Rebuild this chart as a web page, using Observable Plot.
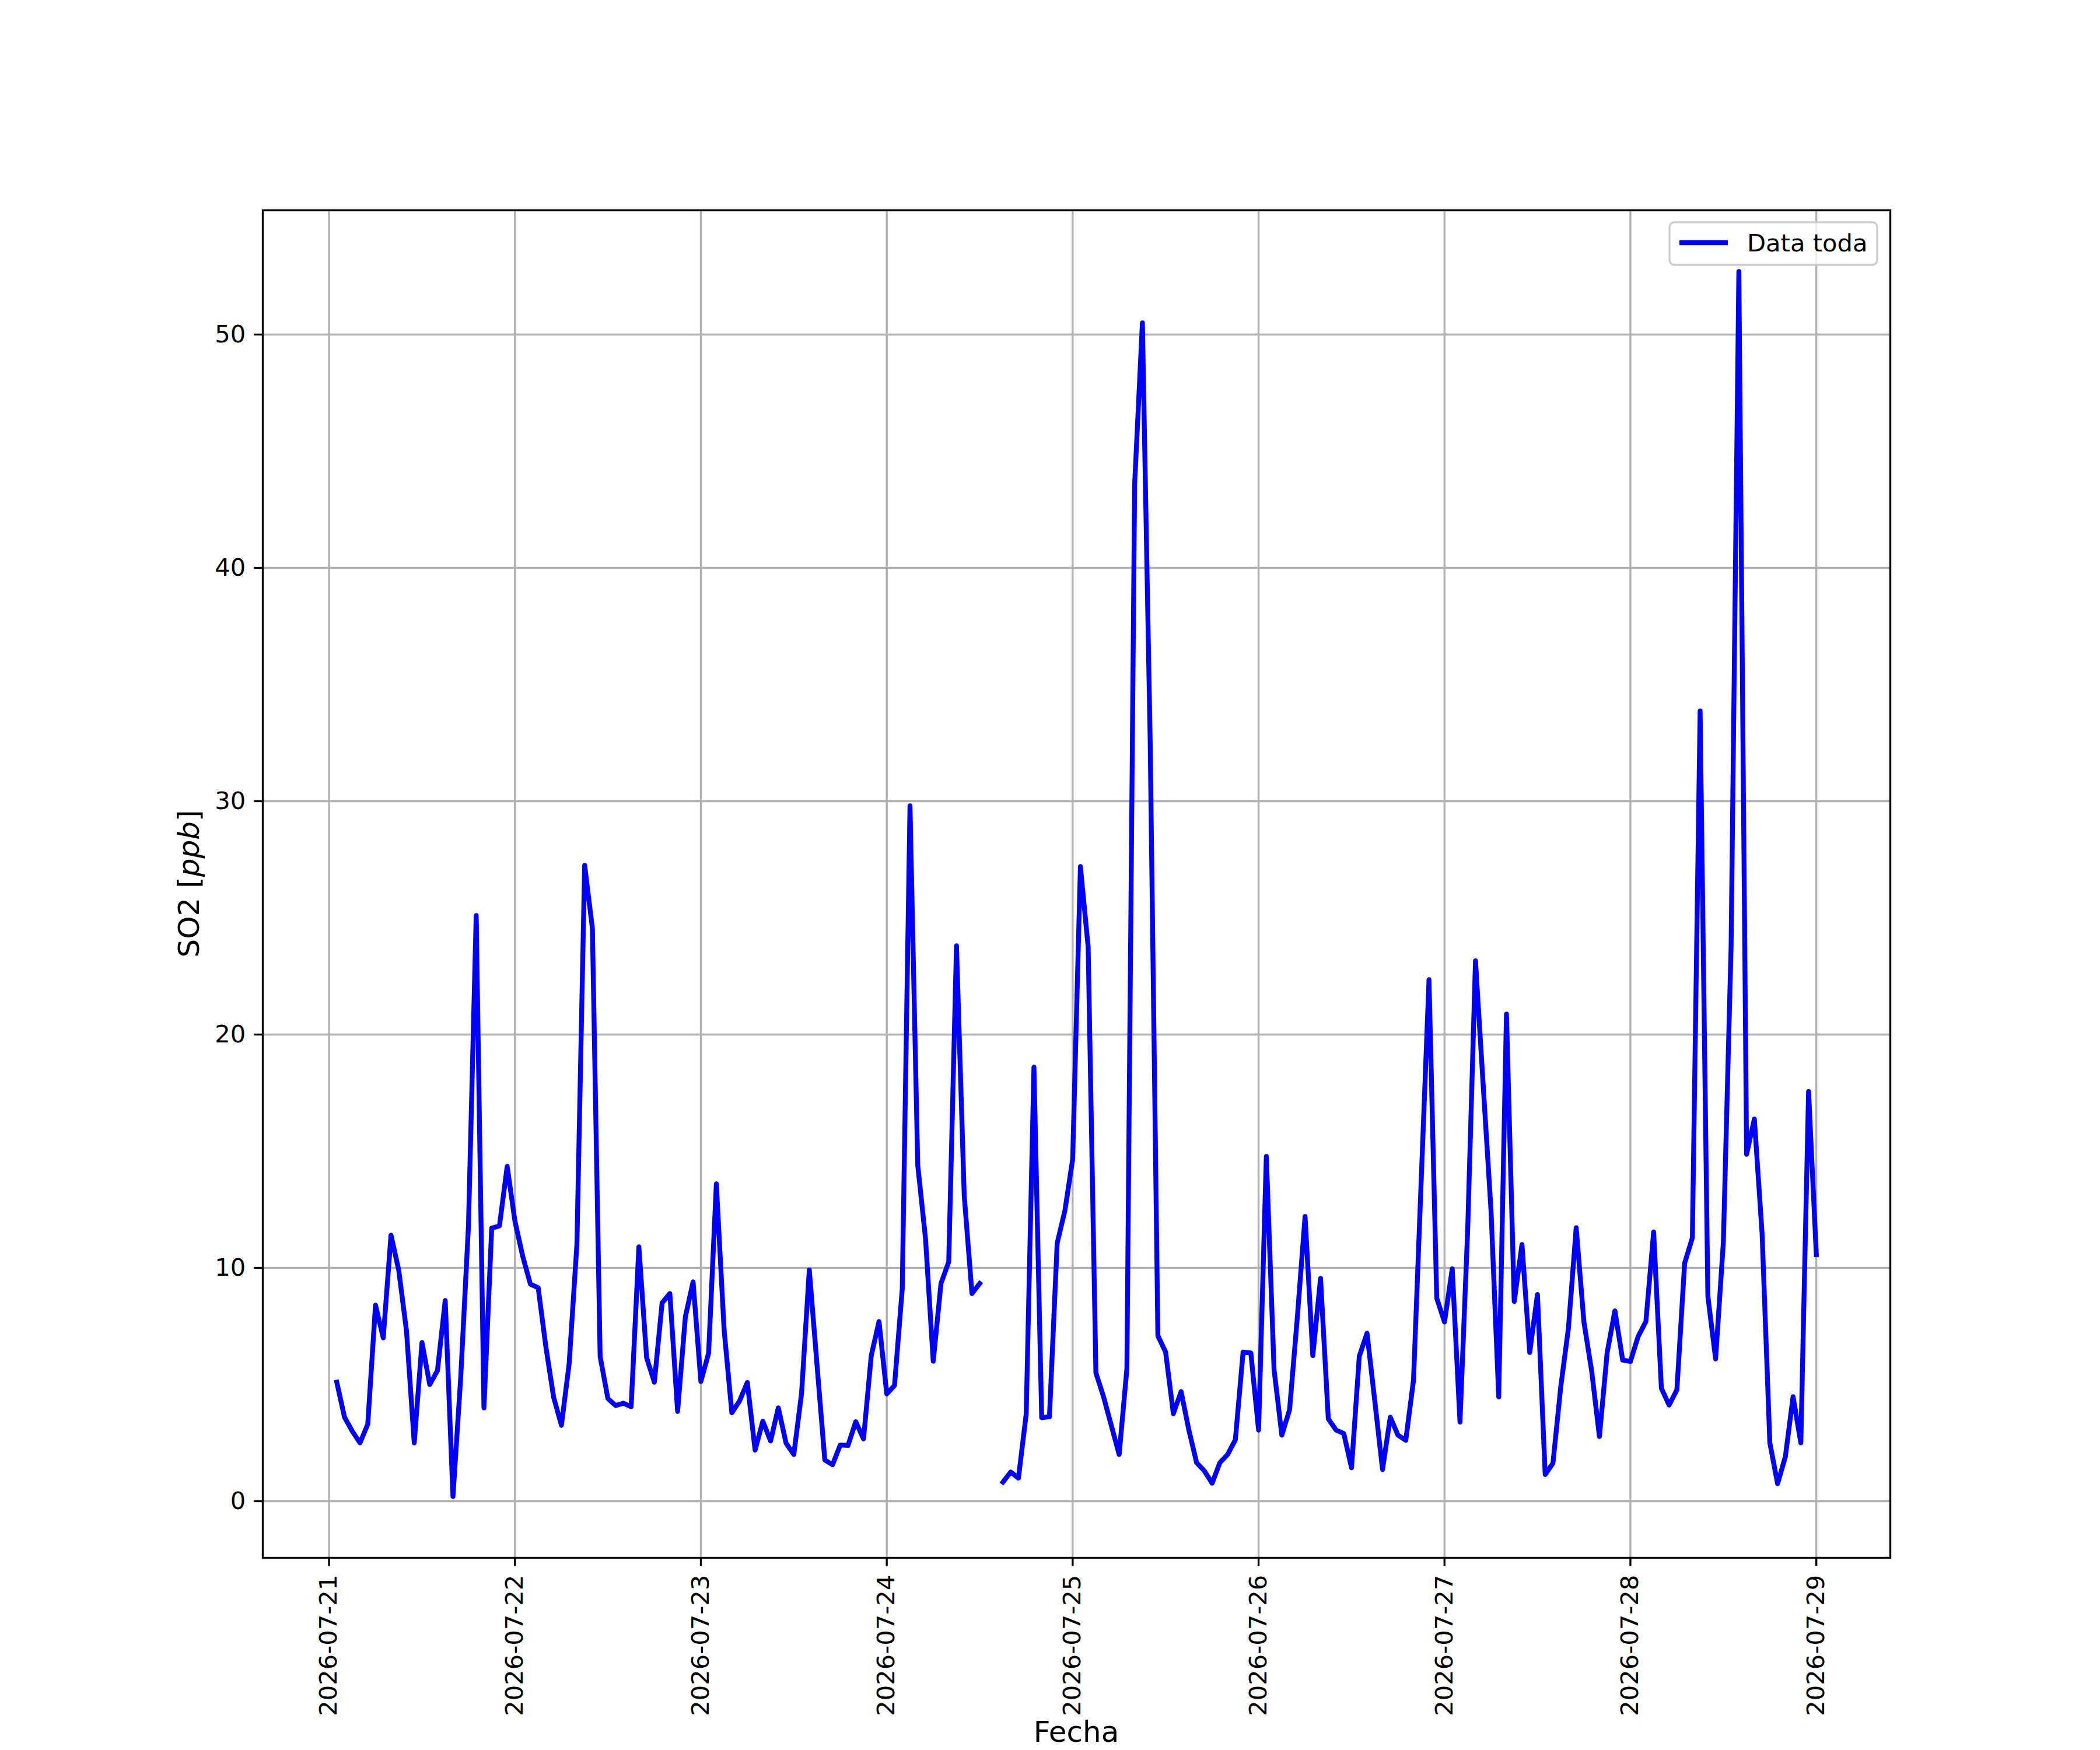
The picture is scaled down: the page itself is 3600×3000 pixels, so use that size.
<!DOCTYPE html>
<html>
<head>
<meta charset="utf-8">
<script src="https://cdn.jsdelivr.net/npm/d3@7"></script>
<script src="https://cdn.jsdelivr.net/npm/@observablehq/plot@0.6"></script>
<style>
  html, body { margin: 0; padding: 0; background: white; overflow: hidden; }
</style>
</head>
<body>
<div id="chart"></div>
<script>
// Hourly SO2 values [ppb], one array per calendar day (hour 00 .. 23), UTC
const d0721 = [null, 5.1, 3.6, 3.0, 2.5, 3.3, 8.4, 7.0, 11.4, 9.9, 7.3, 2.5, 6.8, 5.0, 5.6, 8.6, 0.2, 5.3, 11.8, 25.1, 4.0, 11.7, 11.8, 14.35];
const d0722 = [12.0, 10.5, 9.3, 9.15, 6.6, 4.45, 3.25, 5.9, 11.0, 27.25, 24.55, 6.2, 4.4, 4.1, 4.2, 4.05, 10.9, 6.15, 5.1, 8.5, 8.9, 3.85, 7.9, 9.4];
const d0723 = [5.13, 6.34, 13.6, 7.36, 3.79, 4.3, 5.09, 2.19, 3.43, 2.58, 4.0, 2.49, 2.0, 4.62, 9.91, 5.83, 1.77, 1.56, 2.41, 2.39, 3.41, 2.67, 6.24, 7.7];
const d0724 = [4.6, 4.96, 9.1, 29.8, 14.4, 11.27, 6.0, 9.33, 10.26, 23.8, 13.1, 8.9, 9.33, null, null, 0.82, 1.25, 0.99, 3.73, 18.6, 3.58, 3.62, 11.06, 12.46];
const d0725 = [14.66, 27.2, 23.75, 5.5, 4.46, 3.23, 2.0, 5.68, 43.58, 50.5, 32.7, 7.09, 6.39, 3.75, 4.7, 3.05, 1.65, 1.3, 0.77, 1.65, 2.0, 2.63, 6.39, 6.35];
const d0726 = [3.05, 14.78, 5.64, 2.83, 3.92, 7.87, 12.2, 6.24, 9.55, 3.53, 3.05, 2.9, 1.43, 6.21, 7.2, 4.3, 1.36, 3.6, 2.83, 2.61, 5.19, 13.8, 22.35, 8.7];
const d0727 = [7.68, 9.96, 3.39, 11.7, 23.16, 17.8, 12.5, 4.47, 20.88, 8.56, 11.0, 6.37, 8.86, 1.14, 1.63, 4.88, 7.42, 11.72, 7.68, 5.58, 2.77, 6.37, 8.16, 6.05];
const d0728 = [5.99, 7.06, 7.7, 11.54, 4.84, 4.12, 4.77, 10.2, 11.29, 33.87, 8.78, 6.1, 11.1, 23.8, 52.7, 14.87, 16.38, 11.47, 2.5, 0.75, 1.9, 4.48, 2.5, 17.56];
const d0729 = [10.57];

const dayLabels = ["2026-07-21", "2026-07-22", "2026-07-23", "2026-07-24", "2026-07-25", "2026-07-26", "2026-07-27", "2026-07-28", "2026-07-29"];
const yTicks = [0, 10, 20, 30, 40, 50];
const seriesName = "Data toda";
const xLabel = "Fecha";

const dayArrays = [d0721, d0722, d0723, d0724, d0725, d0726, d0727, d0728, d0729];
const dayDates = dayLabels.map(s => new Date(s + "T00:00:00Z"));
const rows = [];
dayArrays.forEach((arr, i) => {
  arr.forEach((v, h) => {
    rows.push({date: new Date(dayDates[i].getTime() + h * 3600e3), value: v});
  });
});

// matplotlib-style 5% margins around the data extent
const valid = rows.filter(r => r.value != null);
const [xMin, xMax] = d3.extent(valid, r => r.date.getTime());
const [yMin, yMax] = d3.extent(valid, r => r.value);
const xm = (xMax - xMin) * 0.05, ym = (yMax - yMin) * 0.05;

const FS = 41.67;       // 10pt at 300 dpi
const LFS = 50;         // 12pt at 300 dpi (axis labels)
const LW = 3.33;        // 0.8pt
const DLW = 8.33;       // 2pt data line
const W = 3600, H = 3000;
const mL = 450, mR = 360, mT = 360, mB = 330;

const chart = Plot.plot({
  width: W,
  height: H,
  marginLeft: mL,
  marginRight: mR,
  marginTop: mT,
  marginBottom: mB,
  style: {fontFamily: "DejaVu Sans", fontSize: FS + "px", background: "white", color: "black"},
  x: {type: "utc", domain: [new Date(xMin - xm), new Date(xMax + xm)]},
  y: {domain: [yMin - ym, yMax + ym]},
  marks: [
    Plot.gridX(dayDates, {stroke: "#b0b0b0", strokeOpacity: 1, strokeWidth: LW}),
    Plot.gridY(yTicks, {stroke: "#b0b0b0", strokeOpacity: 1, strokeWidth: LW}),
    Plot.lineY(rows, {x: "date", y: "value", stroke: "#0000ff", strokeWidth: DLW,
      strokeLinejoin: "round", strokeLinecap: "square"}),
    Plot.frame({stroke: "black", strokeWidth: LW}),
    Plot.axisX({ticks: dayDates, tickFormat: d3.utcFormat("%Y-%m-%d"), tickRotate: -90,
      tickSize: 14.6, tickPadding: 14.6, strokeWidth: LW, fontSize: FS, label: null,
      textAnchor: "end", lineAnchor: "middle", fill: "black"}),
    Plot.axisY({ticks: yTicks, tickSize: 14.6, tickPadding: 14.6, strokeWidth: LW,
      fontSize: FS, label: null, fill: "black"})
  ]
});

document.getElementById("chart").appendChild(chart);

const svg = d3.select(chart);
// x label
svg.append("text")
  .attr("x", (mL + (W - mR)) / 2)
  .attr("y", 2986)
  .attr("text-anchor", "middle")
  .attr("font-family", "DejaVu Sans")
  .attr("font-size", LFS)
  .attr("fill", "black")
  .text(xLabel);

// y label with italic unit (mathtext style)
const yl = svg.append("text")
  .attr("transform", `translate(341, ${(mT + (H - mB)) / 2}) rotate(-90)`)
  .attr("text-anchor", "middle")
  .attr("font-family", "DejaVu Sans")
  .attr("font-size", LFS)
  .attr("fill", "black");
yl.append("tspan").text("SO2 [");
yl.append("tspan").attr("font-style", "italic").text("ppb");
yl.append("tspan").text("]");

// legend (upper right)
const lg = svg.append("g");
lg.append("rect")
  .attr("x", 2862).attr("y", 381).attr("width", 356).attr("height", 73)
  .attr("rx", 8.3).attr("ry", 8.3)
  .attr("fill", "white").attr("fill-opacity", 0.8)
  .attr("stroke", "#cccccc").attr("stroke-width", LW);
lg.append("line")
  .attr("x1", 2879).attr("x2", 2962).attr("y1", 416).attr("y2", 416)
  .attr("stroke", "#0000ff").attr("stroke-width", DLW).attr("stroke-linecap", "butt");
lg.append("text")
  .attr("x", 2995).attr("y", 416)
  .attr("dy", "0.35em")
  .attr("text-anchor", "start")
  .attr("font-family", "DejaVu Sans")
  .attr("font-size", FS)
  .attr("fill", "black")
  .text(seriesName);
</script>
</body>
</html>
